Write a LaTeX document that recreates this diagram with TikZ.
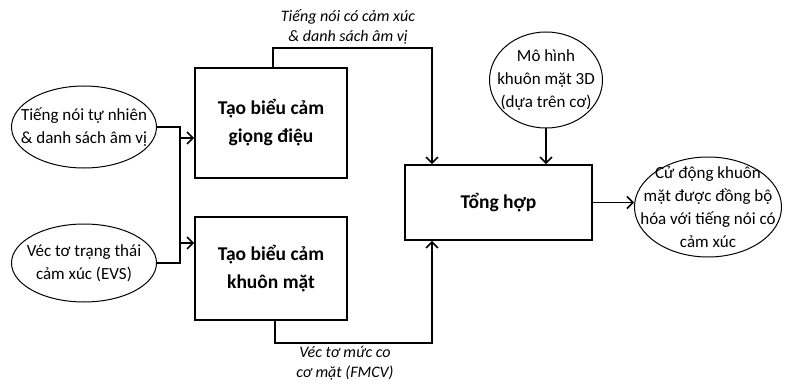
\documentclass[tikz,border=0pt]{standalone}
\usepackage{fontspec}
\setmainfont{Carlito}
\usetikzlibrary{shapes.geometric,arrows.meta}
\tikzset{
  base/.style={draw, line width=1.8pt, inner sep=0pt, align=center},
  oval/.style={base, ellipse, line width=1pt},
  ovaltext/.style={align=center, inner sep=0pt, font=\fontsize{17}{23}\selectfont},
  blockbox/.style={base, rectangle, font=\bfseries\fontsize{19.5}{28}\selectfont},
  arr/.style={line width=1.5pt, -{Straight Barb[length=6pt,width=12pt,line width=1.5pt]}},
  lbl/.style={align=center, font=\itshape\fontsize{16}{20}\selectfont}
}
\begin{document}
\begin{tikzpicture}[x=1pt,y=-1pt]
\useasboundingbox (0,0) rectangle (792,385);
\node[oval, minimum width=145pt, minimum height=82pt] (e1) at (84,127) {};
\node[ovaltext] (e1t) at (e1) {Tiếng nói tự nhiên\\\& danh sách âm vị};
\node[oval, minimum width=145pt, minimum height=78pt] (e2) at (84,263) {};
\node[ovaltext] (e2t) at (e2) {Véc tơ trạng thái\\cảm xúc (EVS)};
\node[blockbox, minimum width=152pt, minimum height=110pt] (b1) at (271,123) {Tạo biểu cảm\\giọng điệu};
\node[blockbox, minimum width=152pt, minimum height=103pt] (b2) at (271,268.5) {Tạo biểu cảm\\khuôn mặt};
\node[blockbox, minimum width=187pt, minimum height=75pt] (t) at (498.5,202.5) {Tổng hợp};
\node[oval, minimum width=113pt, minimum height=96pt] (c) at (546,80) {};
\node[ovaltext] (ct) at (c) {Mô hình\\khuôn mặt 3D\\(dựa trên cơ)};
\node[oval, minimum width=147pt, minimum height=100pt] (o) at (708,207) {};
\node[ovaltext] (ot) at (o) {Cử động khuôn\\mặt được đồng bộ\\hóa với tiếng nói có\\cảm xúc};
% left inputs
\coordinate (ja) at (180,127);
\coordinate (jb) at (180,263);
\coordinate (j1) at (180,138);
\coordinate (j2) at (180,243);
\draw[line width=1.5pt] (e1.east |- ja) -- (ja) -- (jb) -- (e2.east |- jb);
\draw[arr] (j1) -- (j1 -| b1.west);
\draw[arr] (j2) -- (j2 -| b2.west);
% top route
\coordinate (p1) at (273,48);
\coordinate (p2) at (432,48);
\draw[arr] (p1 |- b1.north) -- (p1) -- (p2) -- (p2 |- t.north);
\node[lbl] (l1) at (348,27) {Tiếng nói có cảm xúc\\\& danh sách âm vị};
% bottom route
\coordinate (p3) at (275,343);
\coordinate (p4) at (432,343);
\draw[arr] (p3 |- b2.south) -- (p3) -- (p4) -- (p4 |- t.south);
\node[lbl] (l2) at (345,363) {Véc tơ mức co\\cơ mặt (FMCV)};
% model and output
\draw[arr] (c.south) -- (c.south |- t.north);
\draw[arr] (t.east) -- (t.east -| o.west);
\end{tikzpicture}
\end{document}
